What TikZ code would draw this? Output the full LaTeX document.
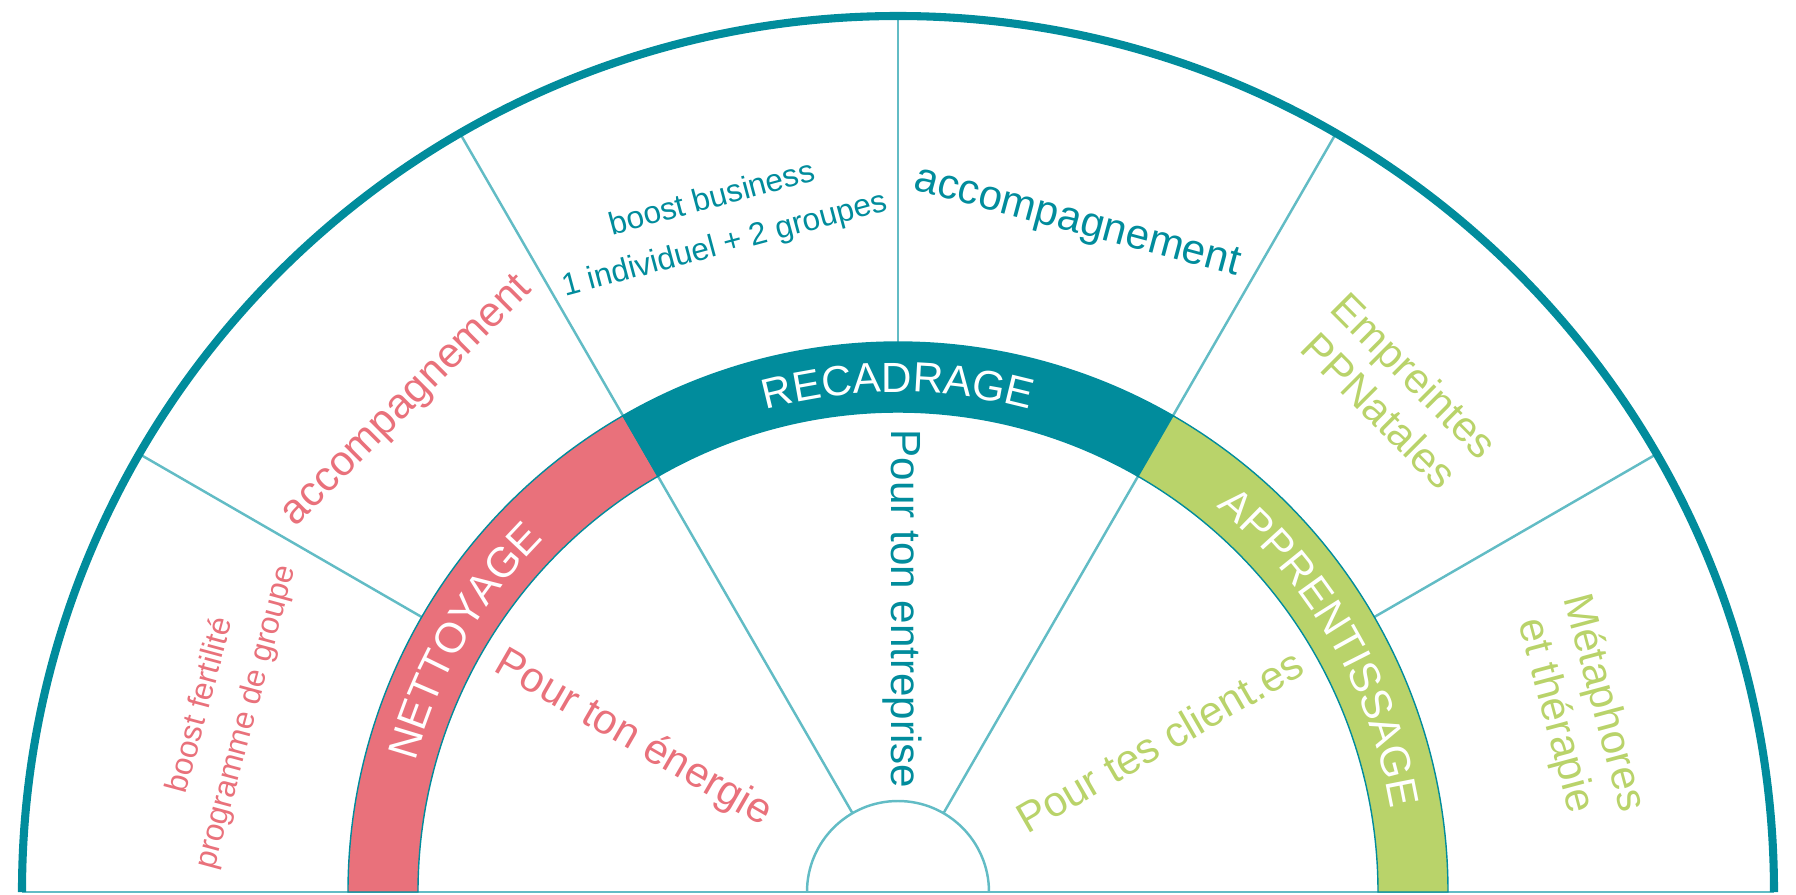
\documentclass[tikz,border=0pt]{standalone}
\usepackage{fontspec}
\setmainfont{Liberation Sans}
\usetikzlibrary{decorations.text}
\definecolor{wheelteal}{RGB}{1,140,156}
\definecolor{wheelpink}{RGB}{233,113,123}
\definecolor{wheelgreen}{RGB}{185,211,106}
\definecolor{spokeblue}{RGB}{98,188,197}
\newcommand{\bandfont}{\fontsize{12}{14}\selectfont}
\begin{document}
\begin{tikzpicture}[
  spoke/.style={spokeblue, line width=0.7pt},
  band/.style={draw=wheelteal, line width=0.4pt},
  bigtext/.style={inner sep=0, align=center, font=\fontsize{12}{14.2}\selectfont},
  smalltext/.style={inner sep=0, align=center, font=\fontsize{9}{13.4}\selectfont}]
\useasboundingbox (-8.98,-0.02) rectangle (8.98,8.92);
\draw[spoke] (-8.76,0) -- (8.76,0);
\draw[spoke] (120:0.91) -- (120:8.76);
\draw[spoke] (60:0.91) -- (60:8.76);
\draw[spoke] (150:5.5) -- (150:8.76);
\draw[spoke] (90:5.5) -- (90:8.76);
\draw[spoke] (30:5.5) -- (30:8.76);
\draw[spoke] (0.91,0) arc (0:180:0.91);
\filldraw[band, fill=wheelpink] (180:4.8) arc (180:120:4.8) -- (120:5.5) arc (120:180:5.5) -- cycle;
\filldraw[band, fill=wheelteal] (120:4.8) arc (120:60:4.8) -- (60:5.5) arc (60:120:5.5) -- cycle;
\filldraw[band, fill=wheelgreen] (60:4.8) arc (60:0:4.8) -- (0:5.5) arc (0:60:5.5) -- cycle;
\draw[wheelteal, line width=2.3pt] (8.76,0) arc (0:180:8.76);
\path[decorate, decoration={text along path, text align=center, text={|\color{white}\bandfont|NETTOYAGE}}] (180:5.0) arc (180:120:5.0);
\path[decorate, decoration={text along path, text align=center, text={|\color{white}\bandfont|RECADRAGE}}] (120:5.0) arc (120:60:5.0);
\path[decorate, decoration={text along path, text align=center, text={|\color{white}\bandfont|APPRENTISSAGE}}] (60:5.0) arc (60:0:5.0);
\node[smalltext, text=wheelpink, rotate=75] (fertilite) at (165:6.98) {boost fertilité\\programme de groupe};
\node[bigtext, text=wheelpink, rotate=45] (accpink) at (135:6.93) {accompagnement};
\node[smalltext, text=wheelteal, rotate=15] (business) at (105:6.93) {boost business\\1 individuel + 2 groupes};
\node[bigtext, text=wheelteal, rotate=-15] (accteal) at (75:6.92) {accompagnement};
\node[bigtext, text=wheelgreen, rotate=-45] (empreintes) at (45:7.06) {Empreintes\\PPNatales};
\node[bigtext, text=wheelgreen, rotate=-75] (metaphores) at (15:7.05) {Métaphores\\et thérapie};
\node[bigtext, text=wheelpink, rotate=-30] (energie) at (150:3.06) {Pour ton énergie};
\node[bigtext, text=wheelteal, rotate=-90] (entreprise) at (0.04,2.83) {Pour ton entreprise};
\node[bigtext, text=wheelgreen, rotate=30] (clientes) at (30:3.02) {Pour tes client.es};
\end{tikzpicture}
\end{document}
